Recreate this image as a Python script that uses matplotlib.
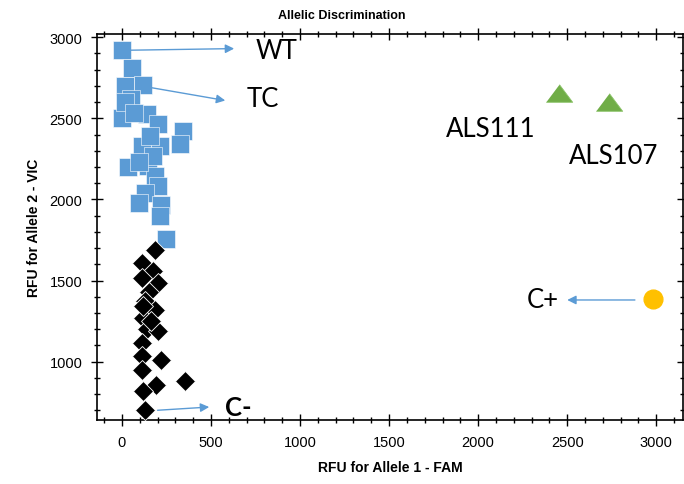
import matplotlib
matplotlib.use("Agg")
import matplotlib.pyplot as plt
from matplotlib.ticker import MultipleLocator

# --- data (RFU values) ---
wt_x = [0, 54, 17, 119, 49, -2, 138, 203, 343, 325, 110, 213, 35, 147, 185, 203, 129, 97, 222, 213, 245,
        20, 70, 160, 175, 95]
wt_y = [2920, 2813, 2700, 2704, 2617, 2504, 2525, 2463, 2422, 2340, 2329, 2329, 2202, 2206, 2144, 2082, 2041, 1975, 1963, 1897, 1753,
        2600, 2530, 2390, 2270, 2230]

neg_x = [185, 110, 175, 110, 203, 150, 129, 185, 119, 140, 203, 110, 110, 222, 110, 194, 353, 119, 129, 165, 120]
neg_y = [1691, 1609, 1558, 1517, 1486, 1430, 1372, 1321, 1270, 1200, 1187, 1115, 1033, 1012, 951, 858, 879, 817, 704, 1250, 1340]

als_x = [2452, 2736]
als_y = [2659, 2601]
als_names = ["ALS111", "ALS107"]

pos_x = [2984]
pos_y = [1383]

x_ticks = [0, 500, 1000, 1500, 2000, 2500, 3000]
y_ticks = [1000, 1500, 2000, 2500, 3000]

BLUE = "#5B9BD5"
GREEN = "#70AD47"
ORANGE = "#FFC000"

fig = plt.figure(figsize=(6.84, 4.85), dpi=100)
ax = fig.add_axes([97 / 684, 64 / 485, 586 / 684, 386 / 485])

ax.plot(wt_x, wt_y, linestyle="none", marker="s", markersize=13.5,
        markerfacecolor=BLUE, markeredgecolor="white", markeredgewidth=0.4, zorder=3)
ax.plot(neg_x, neg_y, linestyle="none", marker="D", markersize=10.5,
        markerfacecolor="black", markeredgecolor="white", markeredgewidth=0.6, zorder=4)
tri = [(-0.75, -0.5), (0.75, -0.5), (0.0, 0.5)]
ax.plot(als_x, als_y, linestyle="none", marker=tri, markersize=19,
        markerfacecolor=GREEN, markeredgecolor="#8CC46A", markeredgewidth=0.6, zorder=3)
ax.plot(pos_x, pos_y, linestyle="none", marker="o", markersize=13.5,
        markerfacecolor=ORANGE, markeredgecolor=ORANGE, zorder=3)

ax.set_xlim(-140, 3150)
ax.set_ylim(640, 3020)
ax.xaxis.set_major_locator(MultipleLocator(500))
ax.xaxis.set_minor_locator(MultipleLocator(100))
ax.yaxis.set_major_locator(MultipleLocator(500))
ax.yaxis.set_minor_locator(MultipleLocator(100))
ax.set_xticks(x_ticks)
ax.set_yticks(y_ticks)
ax.tick_params(which="major", direction="inout", length=9, width=1,
               top=True, right=True, labelsize=10.5, pad=6)
ax.tick_params(which="minor", direction="inout", length=5, width=1,
               top=True, right=True)
for s in ax.spines.values():
    s.set_linewidth(1.2)
for lab in ax.get_xticklabels() + ax.get_yticklabels():
    lab.set_fontfamily("Liberation Sans")

ax.set_xlabel("RFU for Allele 1 - FAM", fontsize=10, fontweight="bold",
              family="Liberation Sans", labelpad=8)
ax.set_ylabel("RFU for Allele 2 - VIC", fontsize=10, fontweight="bold",
              family="Liberation Sans", labelpad=6)
fig.text(0.5, 0.968, "Allelic Discrimination", ha="center", va="center",
         fontsize=9, fontweight="bold", family="Liberation Sans")

arrow = dict(arrowstyle="-|>", color=BLUE, lw=1.0, mutation_scale=13,
             shrinkA=0, shrinkB=0)
lab_font = dict(family="Lato", fontsize=18.5, color="black")

ax.annotate("", xy=(630, 2930), xytext=(40, 2920), arrowprops=arrow)
ax.text(750, 2920, "WT", va="center", ha="left", **lab_font)
ax.annotate("", xy=(580, 2610), xytext=(160, 2690), arrowprops=arrow)
ax.text(700, 2620, "TC", va="center", ha="left", **lab_font)
ax.annotate("", xy=(490, 720), xytext=(200, 700), arrowprops=arrow)
ax.text(580, 720, "C-", va="center", ha="left", fontweight="bold",
        family="Lato", fontsize=18.5)
ax.annotate("", xy=(2500, 1380), xytext=(2880, 1380), arrowprops=arrow)
ax.text(2450, 1380, "C+", va="center", ha="right", **lab_font)
ax.text(2070, 2440, als_names[0], va="center", ha="center", **lab_font)
ax.text(2760, 2270, als_names[1], va="center", ha="center", **lab_font)

fig.savefig("out.png", dpi=100)
